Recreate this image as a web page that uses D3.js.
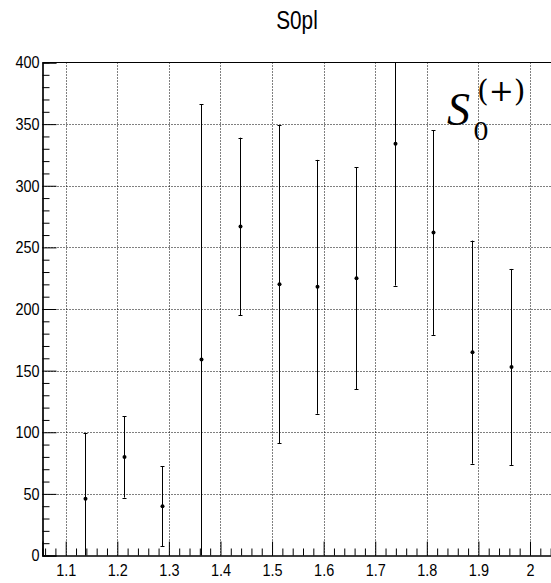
<!DOCTYPE html>
<html>
<head>
<meta charset="utf-8">
<script src="https://cdn.jsdelivr.net/npm/d3@7"></script>
<style>
  html, body { margin: 0; padding: 0; background: #fff; }
  svg { display: block; }
  .tick text { font-family: "Liberation Sans", Arial, sans-serif; font-size: 17px; fill: #000; }
</style>
</head>
<body>
<svg id="chart" width="551" height="583"></svg>
<script>
// Bin centres of the S0pl distribution and the fitted values with their errors
const binCenters = [1.1375, 1.2125, 1.2875, 1.3625, 1.4375, 1.5125, 1.5875, 1.6625, 1.7375, 1.8125, 1.8875, 1.9625];
const values     = [46, 80, 40, 159, 267, 220, 218, 225, 334, 262, 165, 153];
const errors     = [53, 33, 32.5, 207, 72, 129, 103, 90, 115, 83, 90.5, 79.5];

// Axis ticks
const xMajorTicks = [1.1, 1.2, 1.3, 1.4, 1.5, 1.6, 1.7, 1.8, 1.9, 2.0];
const xTickLabels = ["1.1", "1.2", "1.3", "1.4", "1.5", "1.6", "1.7", "1.8", "1.9", "2"];
const yMajorTicks = [0, 50, 100, 150, 200, 250, 300, 350, 400];
const titleText = "S0pl";

const svg = d3.select("#chart");
const padL = 42.5, padR = 553.2, padT = 62.5, padB = 555.5;
const narrow = 0.85; // horizontal squeeze applied to the sans-serif labels

const x = d3.scaleLinear().domain([1.055, 2.045]).range([padL, padR]);
const y = d3.scaleLinear().domain([0, 400]).range([padB, padT]);

// minor ticks: five subdivisions between x majors, five between y majors
const xMinor = d3.range(1.06, 2.045, 0.02).map(v => +v.toFixed(2))
  .filter(v => !xMajorTicks.some(t => Math.abs(t - v) < 1e-6));
const yMinor = d3.range(0, 401, 10).filter(v => v % 50 !== 0);

svg.append("defs").append("clipPath").attr("id", "plot-clip")
  .append("rect").attr("x", padL).attr("y", padT)
  .attr("width", padR - padL).attr("height", padB - padT);

// dotted grid
const grid = svg.append("g").attr("stroke", "#000").attr("stroke-width", 1)
  .attr("stroke-dasharray", "1,2");
grid.selectAll("line.gx").data(xMajorTicks).join("line")
  .attr("x1", d => Math.round(x(d)) + 0.5).attr("x2", d => Math.round(x(d)) + 0.5)
  .attr("y1", padT).attr("y2", padB);
grid.selectAll("line.gy").data(yMajorTicks.filter(v => v > 0 && v < 400)).join("line")
  .attr("x1", padL).attr("x2", padR)
  .attr("y1", d => Math.round(y(d)) + 0.5).attr("y2", d => Math.round(y(d)) + 0.5);

// axes with ticks drawn inward
svg.append("g").attr("transform", `translate(0,${padB})`)
  .call(d3.axisBottom(x).tickValues(xMajorTicks).tickSize(-14).tickPadding(8)
    .tickFormat((d, i) => xTickLabels[i]));
svg.append("g").attr("transform", `translate(0,${padB})`)
  .call(d3.axisBottom(x).tickValues(xMinor).tickSize(-7).tickFormat(""));
svg.append("g").attr("transform", `translate(${padL},0)`)
  .call(d3.axisLeft(y).tickValues(yMajorTicks).tickSize(-14).tickPadding(3));
svg.append("g").attr("transform", `translate(${padL},0)`)
  .call(d3.axisLeft(y).tickValues(yMinor).tickSize(-7).tickFormat(""));

svg.selectAll(".domain").attr("stroke", "#000").attr("stroke-width", 1.2);
svg.selectAll(".tick line").attr("stroke", "#000");
svg.selectAll(".tick text").attr("transform", `scale(${narrow},1)`)
  .attr("x", function () { return (+d3.select(this).attr("x") || 0) / narrow; });

// top frame line
svg.append("line").attr("x1", padL).attr("x2", padR).attr("y1", padT).attr("y2", padT)
  .attr("stroke", "#000").attr("stroke-width", 1.2);

// error bars and markers
const points = binCenters.map((c, i) => ({ c, v: values[i], e: errors[i] }));
const marks = svg.append("g").attr("clip-path", "url(#plot-clip)");
marks.selectAll("line.err").data(points).join("line")
  .attr("x1", d => Math.round(x(d.c)) + 0.5).attr("x2", d => Math.round(x(d.c)) + 0.5)
  .attr("y1", d => y(d.v - d.e)).attr("y2", d => y(d.v + d.e))
  .attr("stroke", "#000").attr("stroke-width", 1);
[-1, 1].forEach(s => {
  marks.append("g").selectAll("line").data(points).join("line")
    .attr("x1", d => Math.round(x(d.c)) - 1.5).attr("x2", d => Math.round(x(d.c)) + 2.5)
    .attr("y1", d => Math.round(y(d.v + s * d.e)) + 0.5)
    .attr("y2", d => Math.round(y(d.v + s * d.e)) + 0.5)
    .attr("stroke", "#000").attr("stroke-width", 1);
});
marks.selectAll("circle").data(points).join("circle")
  .attr("cx", d => Math.round(x(d.c)) + 0.5).attr("cy", d => y(d.v)).attr("r", 2)
  .attr("fill", "#000");

// title
svg.append("text").attr("transform", `translate(297,29) scale(0.83,1)`)
  .attr("text-anchor", "middle")
  .attr("font-family", "Liberation Sans, Arial, sans-serif").attr("font-size", 25)
  .text(titleText);

// S_0^(+) label
const lbl = svg.append("g");
lbl.append("text").attr("x", 447).attr("y", 125)
  .attr("font-family", "Liberation Serif, serif").attr("font-style", "italic")
  .attr("font-size", 46).text("S");
lbl.append("text").attr("x", 473).attr("y", 140)
  .attr("font-family", "DejaVu Serif, serif").attr("font-size", 25).text("0");
lbl.append("text").attr("x", 477).attr("y", 101)
  .attr("font-family", "DejaVu Serif, serif").attr("font-size", 30).text("(+)");
</script>
</body>
</html>
